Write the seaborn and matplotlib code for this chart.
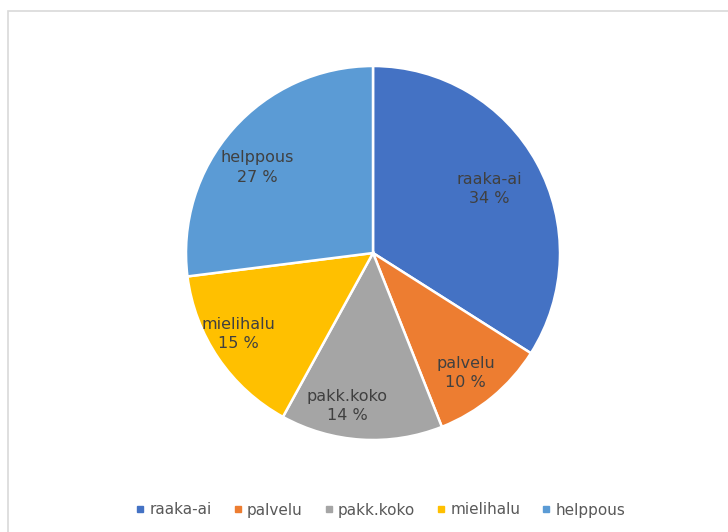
import numpy as np
import matplotlib
matplotlib.use("Agg")
import matplotlib.pyplot as plt
from matplotlib.lines import Line2D
from matplotlib.patches import Rectangle
import seaborn as sns

# Survey answers: why the product was chosen
categories = ["raaka-ai", "palvelu", "pakk.koko", "mielihalu", "helppous"]
shares = [34, 10, 14, 15, 27]
colors = ["#4472C4", "#ED7D31", "#A5A5A5", "#FFC000", "#5B9BD5"]

sns.set_theme(style="white")
plt.rcParams["font.family"] = ["DejaVu Sans"]
palette = sns.color_palette(colors)

W, H = 728, 532
cx, cy, R = 373, 253, 187  # pie centre and radius in pixels

fig = plt.figure(figsize=(W / 100, H / 100), dpi=100)
fig.patch.set_facecolor("white")
ax = fig.add_axes([0, 0, 1, 1])

wedges, _ = ax.pie(
    shares,
    colors=palette,
    startangle=90,
    counterclock=False,
    radius=1.0,
    wedgeprops=dict(edgecolor="white", linewidth=1.8),
)
ax.set_aspect("auto")
ax.set_xlim(-cx / R, (W - cx) / R)
ax.set_ylim(-(H - cy) / R, cy / R)
ax.axis("off")

# data labels: name and percentage inside each slice
label_r = [0.71, 0.81, 0.83, 0.84, 0.77]
label_shift = [0, -2, -6, -3, 5]  # degrees
for w, cat, val, r, sh in zip(wedges, categories, shares, label_r, label_shift):
    ang = np.deg2rad((w.theta1 + w.theta2) / 2 + sh)
    x, y = r * np.cos(ang), r * np.sin(ang)
    ax.text(x, y, f"{cat}\n{val} %", ha="center", va="center",
            fontsize=11.5, color="#404040", linespacing=1.35)

# chart-area border
fig.patches.append(Rectangle((8 / W, -0.1), 1.2, 1 - 11 / H + 0.1,
                             transform=fig.transFigure, fill=False,
                             edgecolor="#d9d9d9", linewidth=1.2))

handles = [Line2D([], [], marker="s", linestyle="none", markersize=5,
                  markerfacecolor=c, markeredgecolor=c) for c in palette]
fig.legend(handles, categories, loc="center", ncol=5,
           bbox_to_anchor=(381 / W, 1 - 510 / H), frameon=False,
           fontsize=11, labelcolor="#595959", handlelength=0.5,
           handletextpad=0.35, columnspacing=1.45)

fig.savefig("out.png", dpi=100, facecolor="white")
